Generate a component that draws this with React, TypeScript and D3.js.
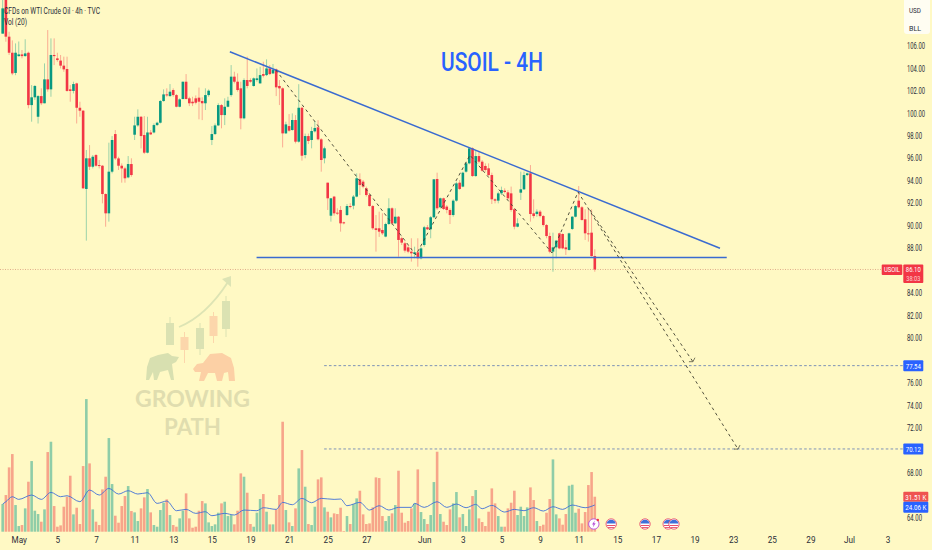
import { useEffect, useRef } from "react";
import * as d3 from "d3";

const WIDTH = 932;
const HEIGHT = 550;

// 4h bars, one value per bar
const opens = [
  107.1,111,106.83,105.4,103.6,105.1,105.25,105.1,105.4,100.74,
  101.43,99.7,101.54,100.9,103.03,102.14,105.2,104.9,104.7,104.25,
  103.95,102.14,102.0,102.67,100.5,100.24,93.27,96.0,95.25,96.29,
  95.4,95.34,92.82,91.1,94.81,98.16,95.99,95.34,95.1,94.3,
  95.49,98.1,98.93,99.7,98.07,96.5,98.3,98.3,98.96,99.17,
  101.1,101.69,101.54,102.08,101.63,100.59,101.28,102.82,101.34,101.04,
  101.34,101.4,101.1,100.9,101.63,97.63,98.16,98.93,100.74,99.85,
  100.59,101.63,103.27,102.82,102.23,99.56,102.97,102.97,102.44,102.97,
  102.67,103.5,103.41,104,103.56,103.92,102.44,102.23,98.22,98.87,
  98.52,99.41,97.48,100.5,96.29,97.98,97.63,98.4,98.76,97.69,
  96,93.83,90.89,92.59,91.16,91.4,90.3,90.95,91.75,91.78,
  92.59,94.13,93.92,93.33,92.73,91.75,89.77,89.77,89.62,89.03,
  90.15,91.55,90.21,90.8,88.88,88.43,88.07,87.69,87.48,87.63,
  87.1,88.28,89.86,89.68,90.75,94.16,91.64,92.44,91.7,91.4,
  90.95,92.23,93.83,93.48,94.81,95.55,96.89,94.42,96.2,95.7,
  95.32,95.11,94.51,92.35,92.23,92.88,93.12,92.97,92.88,91.46,
  89.91,92.94,93.24,94.51,94.66,91.1,91.04,91.25,90.86,90.06,
  89.08,87.69,88.07,89.32,89.26,88.07,87.84,89.71,90.8,92.23,
  91.64,90.57,89.32,89.38,87.3,
];

const closes = [
  109.35,106.83,105.4,103.56,105.4,105.25,105.1,105.34,100.74,101.43,
  102.44,101.54,100.9,103.03,102.14,105.2,105.1,104.75,104.25,103.92,
  102.0,102.0,102.61,100.5,100.24,93.33,96.0,95.25,96.14,95.34,
  95.34,92.82,91.1,94.81,97.63,95.99,95.34,95.1,94.22,95.49,
  94.51,98.93,99.7,97.98,96.5,98.3,98.13,98.96,99.17,101.1,
  101.69,101.63,101.93,101.63,100.59,101.25,102.82,101.28,100.9,100.9,
  100.95,101.04,100.9,101.63,102.02,98.16,98.93,100.74,99.85,100.59,
  101.13,103.27,102.82,102.08,99.56,102.97,102.44,102.82,103.12,103.12,
  103.41,103.35,104.0,103.5,103.86,102.32,102.23,98.22,99.02,98.46,
  99.41,97.48,100.5,96.23,97.98,97.54,98.43,98.7,97.69,95.85,
  96.89,92.44,92.44,91.1,91.1,90.21,90.21,91.75,91.7,92.59,
  94.22,93.62,93.48,92.73,91.75,89.77,89.62,89.47,89.32,90.15,
  91.55,90.21,90.8,88.73,88.49,87.78,87.69,87.54,87.63,87.1,
  87.98,89.86,89.68,90.75,94.13,91.55,92.44,91.49,91.4,90.95,
  92.23,93.77,93.27,94.72,95.55,96.89,94.42,96.2,95.7,94.9,
  94.96,94.51,92.35,92.23,92.88,93.18,93.0,92.44,91.4,89.91,
  90.21,93.24,94.51,94.66,91.04,90.86,91.25,90.86,90.06,89.08,
  87.69,88.07,88.67,87.98,87.98,87.9,89.32,90.8,91.75,91.64,
  90.51,89.32,89.26,87.3,86.1,
];

const highs = [
  111,111.5,107.27,106.5,106.23,106.4,105.64,106.6,105.5,102.52,
  102.52,101.63,102.23,104.45,107.42,106.68,106.68,105.4,105.2,105.05,
  105.05,102.52,102.82,102.73,101.04,100.3,96.74,97.18,96.29,96.38,
  95.85,95.4,92.88,97.39,97.98,98.52,96.14,95.55,95.25,96.2,
  96.0,99.7,100.36,99.76,99.76,99.7,98.52,99.1,99.26,101.19,
  102.14,102.23,102.61,102.23,101.72,101.34,102.82,103.5,101.48,101.48,
  101.6,102.3,101.43,102.23,102.14,98.87,99.1,100.9,100.83,101.34,
  101.48,104.3,103.71,103.56,102.82,103.12,105.05,103.12,103.2,104.0,
  104.15,104.6,104.81,104.3,104.4,104.0,102.97,102.32,99.26,99.94,
  100,99.85,102.6,100.6,98.2,98.2,98.8,99.3,99.4,97.8,
  97.04,93.83,92.44,92.65,91.55,91.75,90.36,91.93,92,92.73,
  94.66,94.66,94.07,93.48,92.88,91.84,90.95,91.25,91.1,90.27,
  92.44,91.64,91.55,90.86,89.03,88.58,88.28,88.88,88.13,88.88,
  88.13,89.98,90.06,90.86,94.13,94.72,92.5,92.5,91.84,91.55,
  92.35,93.92,94.07,94.81,95.7,96.89,96.98,96.74,96.59,95.85,
  95.55,95.55,94.72,92.44,93.03,93.48,93.33,93.18,93.48,91.55,
  90.66,94.81,94.81,94.72,95.4,92.35,91.46,91.4,90.95,90.15,
  89.38,89.38,88.73,89.38,89.32,88.73,89.38,90.86,91.84,93.53,
  91.75,91.46,91.46,91.46,87.9,
];

const lows = [
  107.1,106.38,105.2,103.4,103.4,105.05,104.9,105.05,100.45,99.26,
  101.2,99.1,100.74,100.9,101.93,101.48,104.3,104.6,104,103.7,
  101.93,101.04,101.78,99.1,99.7,93.27,88.67,94.96,95.1,95.25,
  95.1,91.99,89.91,90.36,94.66,95.85,94.96,93.83,93.83,94.22,
  94.36,97.63,98.81,96.88,96.38,96.44,98.07,98.22,98.87,99.1,
  101.04,101.48,101.48,101.48,100.54,100.54,101.25,101.25,100.65,100.65,
  100.8,99.47,99.4,100.3,101.48,97.18,98.07,98.87,98.67,98.96,
  100.54,101.48,102.67,101.93,98.58,99.47,102.23,102.73,102.38,102.82,
  102.67,103.2,103.32,103.41,103.5,101.54,100.74,96.97,98.16,98.37,
  98.46,97.33,97.39,95.79,96,97.27,96.89,98.3,97.6,94.81,
  95.55,91.4,90.36,90.89,90.95,89.47,90.12,90.86,91.55,91.46,
  92.53,92.73,93.33,92.59,91.7,89.62,87.69,89.0,89.17,88.97,
  90.06,90.06,90.15,87.24,88.28,87.6,87.54,86.8,87.1,86.35,
  87.0,88.13,89.62,88.88,90.66,91.4,91.55,91.4,91.1,90.15,
  90.8,92.14,93.18,93.42,94.72,95.46,94.36,94.36,95.55,94.81,
  94.81,94.42,91.93,91.99,91.99,92.73,92.88,92.29,91.25,89.68,
  89.86,92.29,93.18,94.42,90.36,90.66,90.8,90.74,89.92,88.88,
  87.54,85.9,87.1,87.9,87.9,87.39,87.78,89.62,90.74,91.55,
  90.45,88.73,88.58,87.24,85.9,
];

// thousands of contracts
const volumes = [
  24.9,33,57.9,69.9,24,5.1,6,21,45,63.6,
  18.9,15.9,9,20.1,71.7,81,23.1,4.5,5.7,22.5,
  31.5,50.4,15.6,21.6,6.9,59.1,119.4,61.5,20.1,9,
  6,38.1,49.5,84.3,42.9,14.4,8.1,23.1,32.1,41.1,
  18.6,17.4,9.6,21,30.9,38.4,17.4,6,4.5,19.5,
  26.1,29.1,15,6,4.5,12,18.9,34.5,12,3.6,
  4.5,18.9,27.6,25.5,8.4,5.1,6.6,17.1,25.5,27,
  14.1,15,6.6,18.9,52.5,49.5,35.1,6.9,4.5,17.1,
  29.4,33.9,18,6.6,6.6,20.1,33,99,19.5,8.4,
  5.1,21,57,73.5,40.5,6.9,6,22.5,47.1,48.9,
  21.9,18,12.9,16.5,15.9,21.6,0.6,14.1,6.9,24.9,
  30,36.9,15.6,6.9,7.5,21.9,48.9,48.3,14.1,9.6,
  14.1,16.5,24,54.9,17.1,8.1,9.6,21,25.5,56.1,
  17.7,11.4,6.9,15,44.7,72,15.9,9,6,20.1,
  25.5,35.7,12.9,15.9,5.1,20.1,32.1,37.5,12,8.7,
  5.1,18,39,25.5,14.1,4.5,4.5,21,26.1,36.9,
  15,22.5,14.1,21.9,39.9,28.5,9.6,5.1,6.3,17.1,
  29.4,65.1,15.6,12,6.3,15.9,41.4,42.3,17.1,20.7,
  7.5,17.7,42,53.7,31.5,
];

// Vol(20) average, read at these bars
const volMaBars = [
  0,1,3,5,9,12,15,18,20,24,27,30,33,36,39,42,45,48,51,54,57,60,63,65,69,72,75,79,81,85,87,90,93,96,
  99,103,105,107,111,114,117,120,123,127,128,131,135,138,141,144,147,149,152,156,159,162,165,168,171,174,177,181,184,
];
const volMaValues = [
  24.9,27,31.5,29.1,33,29.1,35.4,31.5,32.4,27,37.5,33,39,33.9,36.9,33.9,35.1,25.5,27.6,18.9,20.1,16.5,18,14.4,16.5,15,19.5,18.9,21.6,20.1,26.4,24.3,30,26.1,
  30,29.1,29.4,23.4,26.4,19.5,23.4,19.5,21.9,21.9,25.5,21.9,27,21.9,24.9,21.6,24.6,20.7,23.7,17.7,20.1,18.9,21.6,18.6,22.5,20.1,24,21.6,24.06,
];

const priceTicks = [106,104,102,100,98,96,94,92,90,88,84,82,80,76,74,72,68,64];

const dateTicks = [5,17,29,41,53,65,77,89,101,113,131,143,155,167,179,191,203,215,227,239,251,263,275];
const dateLabels = ["May","5","7","11","13","15","19","21","25","27","Jun","3","5","9","11","15","17","19","23","25","29","Jul","3"];

// drawn on the chart, in [bar, price]
const wedgeTop = [[70.6,105.49],[222.9,87.99]];
const wedgeBase = [[78.9,87.17],[225,87.17]];
const swingPath = [[84.9,103.86],[128.4,87.39],[145.2,96.29],[170.7,87.57],[178.8,93.0],[228.5,70.11]];
const secondLeg = [[182.5,91.4],[214.5,77.89]];

const targetFrom = 99.9;
const targets = [77.54, 70.12];
const lastPrice = 86.10;
const eventBars = [189.1, 199.6, 206.8, 208.6];
const flashBar = 183.7;

const GREEN = "#089981";
const RED = "#f23645";
const VOL_GREEN = "#8fcda8";
const VOL_RED = "#f7a58a";
const BLUE = "#2962ff";
const LINE_BLUE = "#3a6bd0";
const BG = "#fff9c4";
const FONT = "Roboto, sans-serif";

export default function App() {
  const svgRef = useRef<SVGSVGElement>(null);

  useEffect(() => {
    if (!svgRef.current) return;
    const svg = d3.select(svgRef.current);
    svg.selectAll("*").remove();

    const x = d3.scaleLinear().domain([0, 184]).range([2.67, 594.8]);
    const y = d3.scaleLinear().domain([106, 64]).range([46, 517.7]);
    const volY = d3.scaleLinear().domain([0, 31.51]).range([531.7, 496.7]);

    svg.append("rect").attr("width", WIDTH).attr("height", HEIGHT).attr("fill", BG);

    // Watermark
    const mark = svg.append("g");
    const logoCandles = [
      [170, 323, 345, 317, 345, "g"],
      [184.5, 337, 350, 332, 363, "r"],
      [200, 328, 349, 323, 355, "g"],
      [213.5, 316, 336, 312, 343, "r"],
      [226, 301, 329, 296, 337, "g"],
    ] as [number, number, number, number, number, string][];
    logoCandles.forEach(([cx, t, b, wt, wb, c]) => {
      const col = c === "g" ? "#dbe2b2" : "#fcd6ab";
      mark.append("line").attr("x1", cx).attr("x2", cx).attr("y1", wt).attr("y2", wb).attr("stroke", col).attr("stroke-width", 1);
      mark.append("rect").attr("x", cx - 4).attr("y", t).attr("width", 8).attr("height", b - t).attr("fill", col);
    });
    mark.append("path")
      .attr("d", "M179 327 Q206 316 228 282")
      .attr("fill", "none").attr("stroke", "#dde4b4").attr("stroke-width", 1.8);
    mark.append("path").attr("d", "M222 279 L231 276 L231 287 Z").attr("fill", "#dde4b4");
    mark.append("path")
      .attr("d", "M146 380 L147 367 L150 358 L158 355 L168 353 L172 356 L179 357 L176 362 L172 364 L174 380 L171 380 L168 370 L160 372 L157 380 L154 380 L153 372 L149 380 Z")
      .attr("fill", "#d8e0b0");
    mark.append("path")
      .attr("d", "M193 369 L197 364 L203 363 L210 354 L222 353 L231 358 L234 368 L235 381 L229 381 L228 372 L224 373 L222 381 L217 381 L215 373 L208 373 L204 381 L199 381 L201 372 L195 372 Z")
      .attr("fill", "#fcd0a5");
    [["GROWING", 407, 115], ["PATH", 435, 57]].forEach(([t, ty, len]) => {
      svg.append("text")
        .attr("x", 192.5).attr("y", ty as number)
        .attr("text-anchor", "middle")
        .attr("textLength", len as number).attr("lengthAdjust", "spacingAndGlyphs")
        .attr("font-family", "Lato, sans-serif").attr("font-weight", 700).attr("font-size", 23)
        .attr("fill", "#e0ddaf")
        .text(t as string);
    });

    // Last price line
    svg.append("line")
      .attr("x1", 0).attr("x2", 882).attr("y1", y(lastPrice)).attr("y2", y(lastPrice))
      .attr("stroke", "#d99a7c").attr("stroke-width", 0.8).attr("stroke-dasharray", "1 1.5");

    // Target levels
    targets.forEach((t) => {
      svg.append("line")
        .attr("x1", x(targetFrom)).attr("x2", 904).attr("y1", y(t)).attr("y2", y(t))
        .attr("stroke", "#6f88b5").attr("stroke-width", 0.9).attr("stroke-dasharray", "2.6 2.2");
    });

    // Volume
    const bars = d3.range(opens.length);
    svg.append("g").selectAll("rect").data(bars).join("rect")
      .attr("x", (i) => x(i) - 1.3)
      .attr("width", 2.6)
      .attr("y", (i) => volY(volumes[i]))
      .attr("height", (i) => volY(0) - volY(volumes[i]))
      .attr("fill", (i) => (closes[i] >= opens[i] ? VOL_GREEN : VOL_RED));

    const maLine = d3.line<number>()
      .x((i) => x(i))
      .y((_, k) => volY(volMaValues[k]))
      .curve(d3.curveMonotoneX);
    svg.append("path")
      .datum(volMaBars)
      .attr("d", maLine)
      .attr("fill", "none").attr("stroke", "#3f6fd8").attr("stroke-width", 0.9);

    // Candles
    const candle = svg.append("g");
    candle.selectAll("line").data(bars).join("line")
      .attr("x1", (i) => x(i)).attr("x2", (i) => x(i))
      .attr("y1", (i) => y(highs[i])).attr("y2", (i) => y(lows[i]))
      .attr("stroke", (i) => (closes[i] >= opens[i] ? GREEN : RED))
      .attr("stroke-opacity", 0.4).attr("stroke-width", 1);
    candle.selectAll("rect").data(bars).join("rect")
      .attr("x", (i) => x(i) - 1.3)
      .attr("width", 2.6)
      .attr("y", (i) => y(Math.max(opens[i], closes[i])))
      .attr("height", (i) => Math.max(1, Math.abs(y(opens[i]) - y(closes[i]))))
      .attr("fill", (i) => (closes[i] >= opens[i] ? GREEN : RED));

    // Trend lines
    const pts = d3.line<number[]>().x((d) => x(d[0])).y((d) => y(d[1]));
    [wedgeTop, wedgeBase].forEach((l) => {
      svg.append("path").attr("d", pts(l)).attr("fill", "none")
        .attr("stroke", LINE_BLUE).attr("stroke-width", 1.5);
    });
    [swingPath, secondLeg].forEach((l) => {
      svg.append("path").attr("d", pts(l)).attr("fill", "none")
        .attr("stroke", "#3f3f30").attr("stroke-width", 0.9).attr("stroke-dasharray", "3 3.2");
      const [ex, ey] = [x(l[l.length - 1][0]), y(l[l.length - 1][1])];
      svg.append("path")
        .attr("d", `M${ex - 4} ${ey} L${ex} ${ey} L${ex + 2} ${ey - 4}`)
        .attr("fill", "none").attr("stroke", "#3f3f30").attr("stroke-width", 0.7);
    });

    // Title
    svg.append("text")
      .attr("x", 492).attr("y", 71).attr("text-anchor", "middle")
      .attr("textLength", 102).attr("lengthAdjust", "spacingAndGlyphs")
      .attr("font-family", FONT).attr("font-weight", 500).attr("font-size", 26)
      .attr("fill", BLUE)
      .text("USOIL - 4H");

    // Legend
    svg.append("text")
      .attr("x", 4).attr("y", 14)
      .attr("textLength", 96).attr("lengthAdjust", "spacingAndGlyphs")
      .attr("font-family", FONT).attr("font-size", 8.5).attr("fill", "#2a2e39")
      .text("CFDs on WTI Crude Oil · 4h · TVC");
    svg.append("text")
      .attr("x", 4).attr("y", 25)
      .attr("textLength", 23).attr("lengthAdjust", "spacingAndGlyphs")
      .attr("font-family", FONT).attr("font-size", 8.5).attr("fill", "#2a2e39")
      .text("Vol (20)");

    // Price axis
    const priceAxis = svg.append("g")
      .attr("transform", "translate(907,0)")
      .call(d3.axisRight(y).tickValues(priceTicks).tickSize(0).tickPadding(0).tickFormat((d) => (d as number).toFixed(2)));
    priceAxis.select(".domain").remove();
    priceAxis.selectAll<SVGTextElement, number>("text")
      .attr("textLength", (d) => (d >= 100 ? 18 : 15))
      .attr("lengthAdjust", "spacingAndGlyphs")
      .attr("font-family", FONT).attr("font-size", 8.2).attr("fill", "#2a2e39");

    // Time axis
    const dateAxis = svg.append("g")
      .attr("transform", "translate(0,537)")
      .call(d3.axisBottom(x).tickValues(dateTicks).tickSize(0).tickPadding(0)
        .tickFormat((_, k) => dateLabels[k]));
    dateAxis.select(".domain").remove();
    dateAxis.selectAll("text")
      .attr("font-family", FONT).attr("font-size", 8.2).attr("fill", "#2a2e39");

    // USD / BLL box
    svg.append("rect").attr("x", 904).attr("y", -4).attr("width", 26).attr("height", 38).attr("rx", 3).attr("fill", "#fffdf2");
    [["USD", 13], ["BLL", 31]].forEach(([t, ty]) => {
      svg.append("text").attr("x", 909).attr("y", ty as number)
        .attr("textLength", 12).attr("lengthAdjust", "spacingAndGlyphs")
        .attr("font-family", FONT).attr("font-size", 7.5).attr("fill", "#2a2e39").text(t as string);
    });

    // Axis tags
    const tag = (bx: number, by: number, w: number, h: number, fill: string) =>
      svg.append("rect").attr("x", bx).attr("y", by).attr("width", w).attr("height", h).attr("rx", 1).attr("fill", fill);
    const tagText = (s: string, tx: number, ty: number, len: number, op = 1) =>
      svg.append("text").attr("x", tx).attr("y", ty).attr("text-anchor", "middle")
        .attr("textLength", len).attr("lengthAdjust", "spacingAndGlyphs")
        .attr("font-family", FONT).attr("font-size", 8).attr("fill", "#fff").attr("fill-opacity", op).text(s);

    tag(881.7, y(lastPrice) - 5, 20.6, 10.5, RED);
    tagText("USOIL", 892, y(lastPrice) + 3, 16);
    tag(903.3, y(lastPrice) - 5, 20, 18.5, RED);
    tagText(lastPrice.toFixed(2), 913.3, y(lastPrice) + 3, 15);
    tagText("38:03", 913.3, y(lastPrice) + 12, 14, 0.75);

    targets.forEach((t) => {
      tag(903.3, y(t) - 5.5, 20, 11, BLUE);
      tagText(t.toFixed(2), 913.3, y(t) + 3, 15);
    });

    tag(903.3, 491.7, 25, 10, "#ef5350");
    tagText("31.51 K", 915.8, 499.8, 21);
    tag(903.3, 501.7, 25, 11, BLUE);
    tagText("24.06 K", 915.8, 510.3, 21);

    // Event markers along the time axis
    const flash = svg.append("g").attr("transform", `translate(${x(flashBar)},524)`);
    flash.append("circle").attr("r", 5.2).attr("fill", "#fff").attr("stroke", "#b44bd6").attr("stroke-width", 0.9);
    flash.append("path").attr("d", "M1 -3.4 L-1.8 0.6 L-0.2 0.6 L-1 3.4 L1.8 -0.8 L0.2 -0.8 Z").attr("fill", "#b44bd6");
    flash.append("circle").attr("cx", 4).attr("cy", -4).attr("r", 1.2).attr("fill", RED);

    eventBars.forEach((b) => {
      const flag = svg.append("g").attr("transform", `translate(${x(b)},524)`);
      flag.append("circle").attr("r", 5.2).attr("fill", "#fff").attr("stroke", "#e8506a").attr("stroke-width", 0.9);
      flag.append("path").attr("d", "M-4.5 -0.5 A4.6 4.6 0 0 1 4.5 -0.5 Z").attr("fill", "#3f6fd8");
      flag.append("rect").attr("x", -4.2).attr("y", 1).attr("width", 8.4).attr("height", 1).attr("fill", "#e8506a");
      flag.append("rect").attr("x", -3.2).attr("y", 3).attr("width", 6.4).attr("height", 0.9).attr("fill", "#e8506a");
    });
  }, []);

  return (
    <svg
      ref={svgRef}
      width={WIDTH}
      height={HEIGHT}
      style={{ position: "fixed", left: 0, top: 0, display: "block" }}
    />
  );
}
